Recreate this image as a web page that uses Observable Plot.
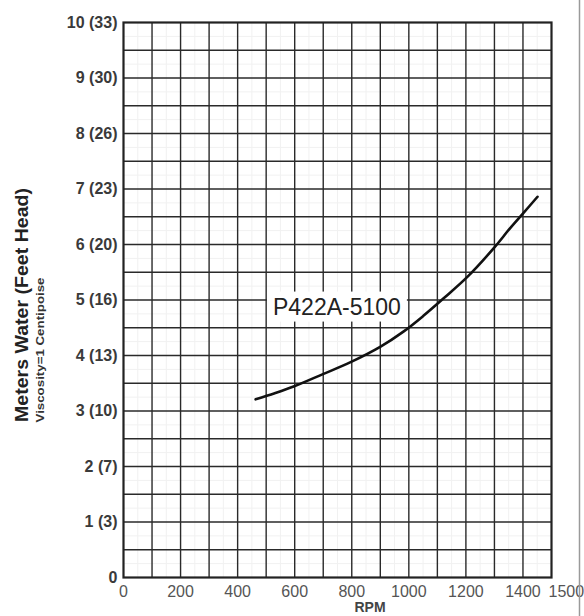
<!DOCTYPE html>
<html>
<head>
<meta charset="utf-8">
<script src="https://cdn.jsdelivr.net/npm/d3@7"></script>
<script src="https://cdn.jsdelivr.net/npm/@observablehq/plot@0.6"></script>
<style>
  html, body { margin: 0; padding: 0; background: #fff; }
  svg { display: block; font-family: "Liberation Sans", Arial, sans-serif; }
</style>
</head>
<body>
<div id="chart"></div>
<script>
// ---- data ----
const rpm  = [463, 530, 596, 697, 796, 901, 981, 1050, 1122, 1206, 1297, 1356, 1402, 1451];
const head = [3.21, 3.32, 3.44, 3.66, 3.88, 4.16, 4.43, 4.71, 5.03, 5.42, 5.93, 6.30, 6.57, 6.86];

const xTicks = [0, 200, 400, 600, 800, 1000, 1200, 1400];
const xLastTick = [1500];
const yTicks = [0, 1, 2, 3, 4, 5, 6, 7, 8, 9, 10];
const yTickLabels = ["0", "1 (3)", "2 (7)", "3 (10)", "4 (13)", "5 (16)", "6 (20)", "7 (23)", "8 (26)", "9 (30)", "10 (33)"];
const xGrid = d3.range(100, 1500, 100);
const yGrid = d3.range(0.5, 10, 0.5);
const xMinor = d3.range(50, 1500, 100);
const yMinor = d3.range(0.25, 10, 0.5);

const curveLabel = [{text: "P422A-5100", rpm: 748, head: 4.87}];
const yTitle = "Meters Water (Feet Head)";
const ySubtitle = "Viscosity=1 Centipoise";
const xTitle = "RPM";

const points = rpm.map((r, i) => ({rpm: r, head: head[i]}));

const plot = Plot.plot({
  width: 584,
  height: 616,
  marginLeft: 123,
  marginRight: 33,
  marginTop: 22,
  marginBottom: 39,
  style: {fontFamily: "Liberation Sans, Arial, sans-serif", background: "#fff", overflow: "visible"},
  x: {domain: [0, 1500], axis: null},
  y: {domain: [0, 10], axis: null},
  marks: [
    Plot.ruleX(xMinor, {stroke: "#f1f1f1", strokeWidth: 1}),
    Plot.ruleY(yMinor, {stroke: "#f1f1f1", strokeWidth: 1}),
    Plot.ruleX(xGrid, {stroke: "#2a2a2a", strokeWidth: 1.4}),
    Plot.ruleY(yGrid, {stroke: "#2a2a2a", strokeWidth: 1.4}),
    Plot.frame({stroke: "#222", strokeWidth: 2.2}),
    Plot.axisY(yTicks, {
      tickSize: 0, tickPadding: 6, fontSize: 16, fontWeight: "bold", fill: "#3a3a3a",
      tickFormat: (d) => yTickLabels[yTicks.indexOf(d)], label: null
    }),
    Plot.axisX(xTicks, {
      tickSize: 0, tickPadding: 8, fontSize: 16, fill: "#555", label: null,
      tickFormat: (d) => String(d)
    }),
    Plot.text(xLastTick, {
      x: (d) => d, frameAnchor: "bottom", dy: 19, dx: -3, textAnchor: "start",
      text: (d) => String(d), fontSize: 16, fill: "#555"
    }),
    Plot.line(points, {x: "rpm", y: "head", curve: "catmull-rom", stroke: "#111", strokeWidth: 2.6}),
    Plot.text(curveLabel, {
      x: "rpm", y: "head", text: "text", fontSize: 23, fill: "#222", className: "curve-label"
    })
  ]
});

document.getElementById("chart").appendChild(plot);

const svg = d3.select(plot);

// white box behind the curve label
svg.selectAll(".curve-label text").each(function () {
  const b = this.getBBox();
  const g = this.parentNode;
  const ctm = this.getAttribute("transform");
  const rect = document.createElementNS("http://www.w3.org/2000/svg", "rect");
  rect.setAttribute("x", b.x - 6);
  rect.setAttribute("y", b.y - 2);
  rect.setAttribute("width", b.width + 12);
  rect.setAttribute("height", b.height + 4);
  rect.setAttribute("fill", "#fff");
  if (ctm) rect.setAttribute("transform", ctm);
  g.insertBefore(rect, this);
});

// axis titles
svg.append("text")
  .attr("transform", "translate(28,305) rotate(-90)")
  .attr("text-anchor", "middle")
  .attr("font-size", 18)
  .attr("font-weight", "bold")
  .attr("fill", "#222")
  .attr("textLength", 234)
  .attr("lengthAdjust", "spacingAndGlyphs")
  .text(yTitle);

svg.append("text")
  .attr("transform", "translate(44,350) rotate(-90)")
  .attr("text-anchor", "middle")
  .attr("font-size", 10)
  .attr("font-weight", "bold")
  .attr("fill", "#333")
  .attr("textLength", 145)
  .attr("lengthAdjust", "spacingAndGlyphs")
  .text(ySubtitle);

svg.append("text")
  .attr("x", 370)
  .attr("y", 612)
  .attr("text-anchor", "middle")
  .attr("font-size", 14)
  .attr("font-weight", "bold")
  .attr("fill", "#444")
  .text(xTitle);

// scan border at right
svg.append("line")
  .attr("x1", 579.5).attr("x2", 579.5).attr("y1", 0).attr("y2", 616)
  .attr("stroke", "#9a9a9a").attr("stroke-width", 1.5);
</script>
</body>
</html>
